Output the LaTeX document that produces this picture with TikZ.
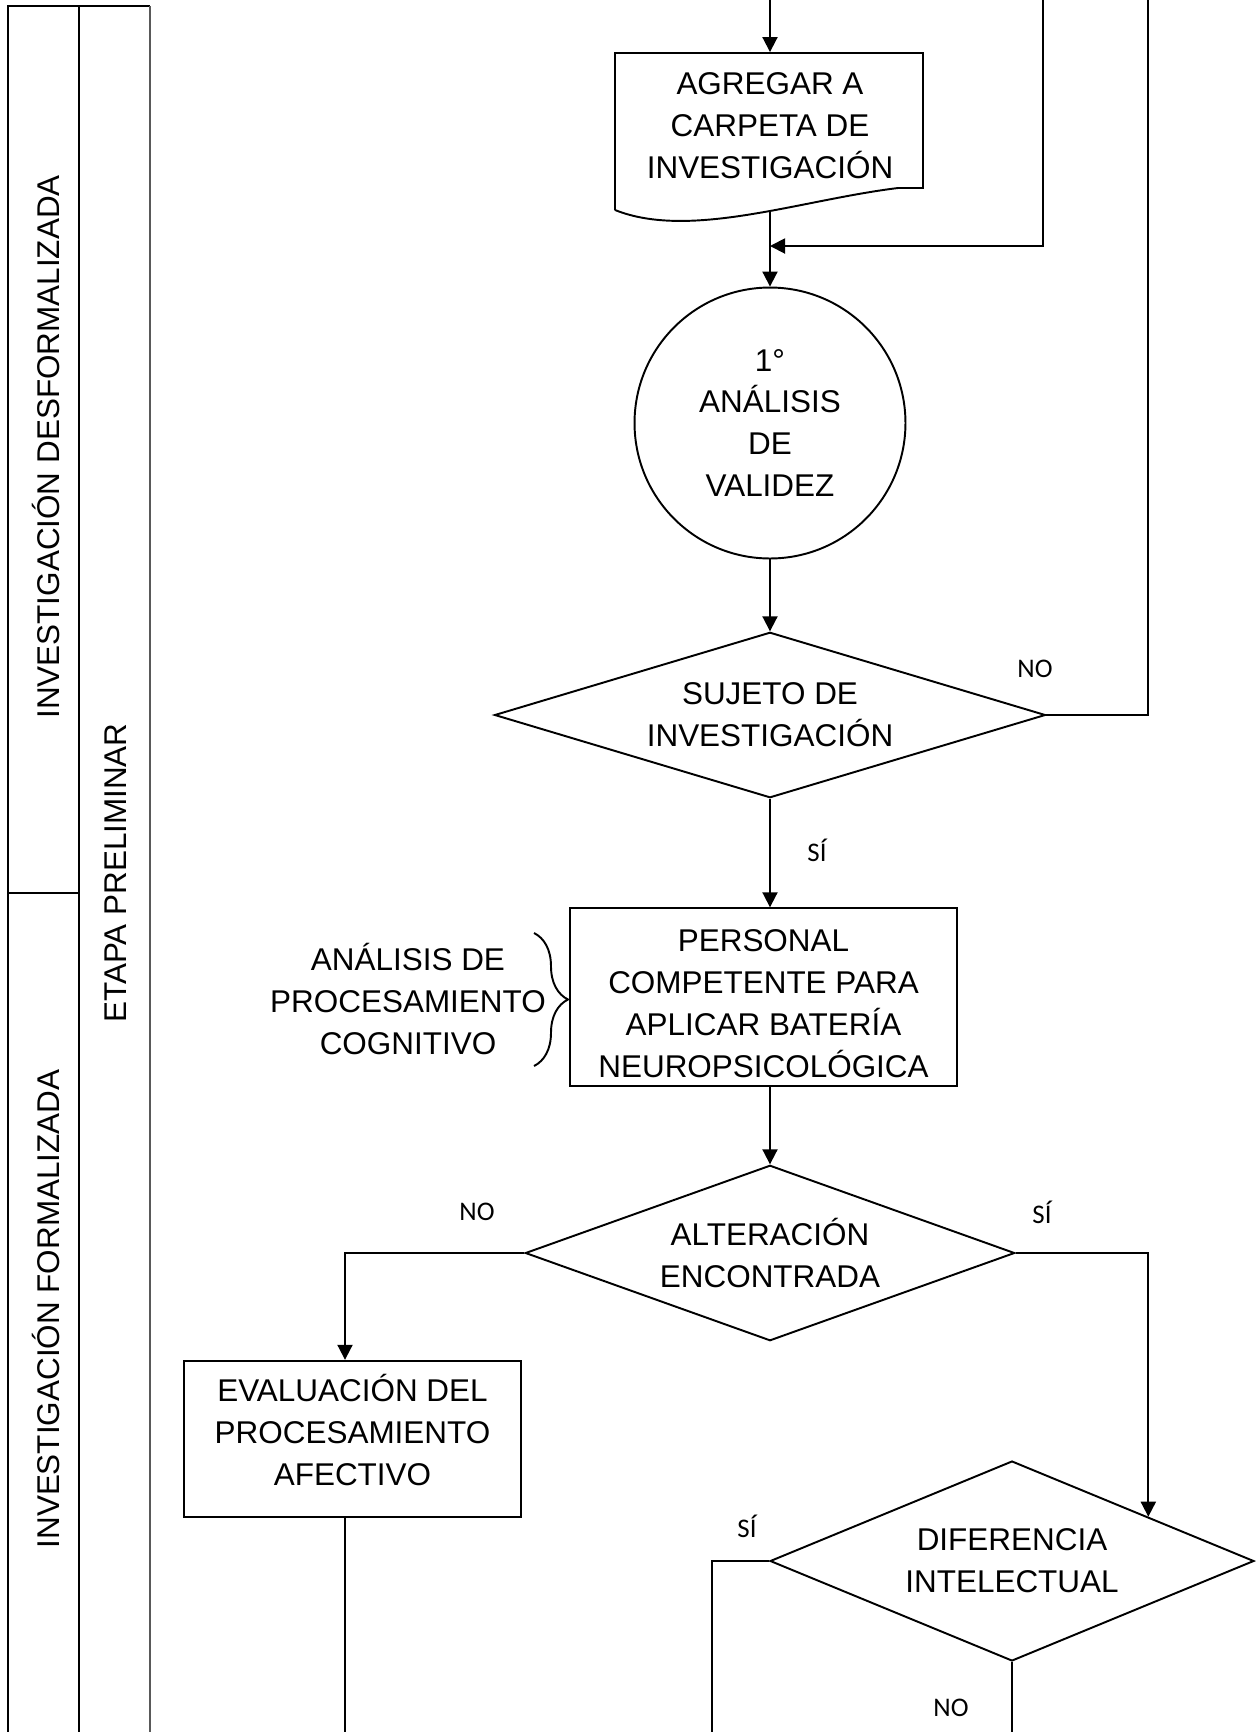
\documentclass[tikz,border=0pt]{standalone}
\usepackage{fontspec}
\setmainfont{Liberation Sans}
\newfontfamily\lblfont{Carlito}
\usetikzlibrary{shapes.geometric,arrows.meta,decorations.pathreplacing}
\newcommand{\flowfs}{\fontsize{17.9}{23.9}\selectfont}

\tikzset{
    arr/.style={-{Triangle[length=0.3cm,width=0.3cm]}},
    proc/.style={draw,rectangle,align=center,font=\flowfs,inner sep=0pt},
    decision/.style={draw,diamond,align=center,font=\flowfs,inner sep=0pt},
    term/.style={draw,circle,align=center,font=\flowfs,inner sep=0pt,minimum size=5.42cm},
    lbl/.style={font=\lblfont\fontsize{15.3}{18}\selectfont,inner sep=0pt},
    lanetxt/.style={rotate=90,font=\flowfs,inner sep=0pt},
}

\begin{document}
\begin{tikzpicture}[x=0.02cm,y=-0.02cm,line width=1.1pt]
        \useasboundingbox (0,0) rectangle (1256,1732);
        \draw (8,1732) -- (8,6) -- (150,6);
        \draw (79,6) -- (79,1732);
        \draw (8,893) -- (79,893);
        \draw[black!65] (150,6) -- (150,1732);
        \node (desf) at (46,447)[lanetxt]{INVESTIGACIÓN DESFORMALIZADA};
        \node (form) at (46,1309)[lanetxt]{INVESTIGACIÓN FORMALIZADA};
        \node (etapa) at (116,873)[lanetxt]{ETAPA PRELIMINAR};
        \coordinate (in1) at (770,0);
        \coordinate (ret1) at (1043,0);
        \coordinate (out1) at (1148,0);
        \coordinate (j1) at (770,246);
        \node (agregar) at (770,131.5)[proc,draw=none,minimum width=6.16cm,minimum height=3.14cm,
            text depth=0.22cm]{AGREGAR A\\CARPETA DE\\INVESTIGACIÓN};
        \draw (615,210) -- (615,53) -- (923,53) -- (923,188) -- (898,188)
            .. controls (800,200) and (690,240) .. (615,210);
        \node (analisis) at (770,423)[term]{1°\\ANÁLISIS\\DE\\VALIDEZ};
        \node (sujeto) at (770,715)[decision,shape aspect=3.33,minimum width=11.02cm,
            minimum height=3.31cm]{SUJETO DE\\INVESTIGACIÓN};
        \node (personal) at (763.5,997)[proc,minimum width=7.74cm,minimum height=3.55cm,
            text height=3.21cm]{PERSONAL\\COMPETENTE PARA\\APLICAR BATERÍA\\NEUROPSICOLÓGICA};
        \node (cognitivo) at (408,999)[align=center,font=\flowfs,inner sep=0pt]
            {ANÁLISIS DE\\PROCESAMIENTO\\COGNITIVO};
        \node (alteracion) at (770,1253)[decision,shape aspect=2.78,minimum width=9.79cm,
            minimum height=3.51cm]{ALTERACIÓN\\ENCONTRADA};
        \node (evaluacion) at (352.5,1439)[proc,minimum width=6.74cm,minimum height=3.13cm,
            text depth=0.38cm]{EVALUACIÓN DEL\\PROCESAMIENTO\\AFECTIVO};
        \node (diferencia) at (1012,1561)[decision,shape aspect=2.42,minimum width=9.68cm,
            minimum height=4cm]{DIFERENCIA\\INTELECTUAL};
        \coordinate (out2) at (345,1732);
        \coordinate (out3) at (712,1732);
        \coordinate (out4) at (1012,1732);
        \draw[decorate,decoration={brace,amplitude=0.68cm}] (534,933) -- (534,1066);
        \draw[arr] (in1) -- (agregar.north);
        \draw[arr] (agregar.south) -- (analisis.north);
        \draw[arr] (ret1) |- (j1);
        \draw[arr] (analisis.south) -- (sujeto.north);
        \draw (sujeto.east) -| (out1);
        \draw[arr] (sujeto.south) -- (sujeto.south |- personal.north);
        \draw[arr] (personal.south -| sujeto.south) -- (alteracion.north);
        \draw[arr] (alteracion.west) -| (out2 |- evaluacion.north);
        \draw (out2 |- evaluacion.south) -- (out2);
        \draw[arr] (alteracion.east) -| (diferencia.18);
        \draw (diferencia.west) -| (out3);
        \draw (diferencia.south) -- (out4);
        \foreach \x/\y/\t [count=\i] in {1035/669/NO, 817/850/SÍ, 477/1212/NO,
            1042/1212/SÍ, 747/1526/SÍ, 951/1708/NO}
            \node (lbl\i) at (\x,\y)[lbl]{\t};
    \end{tikzpicture}
\end{document}
